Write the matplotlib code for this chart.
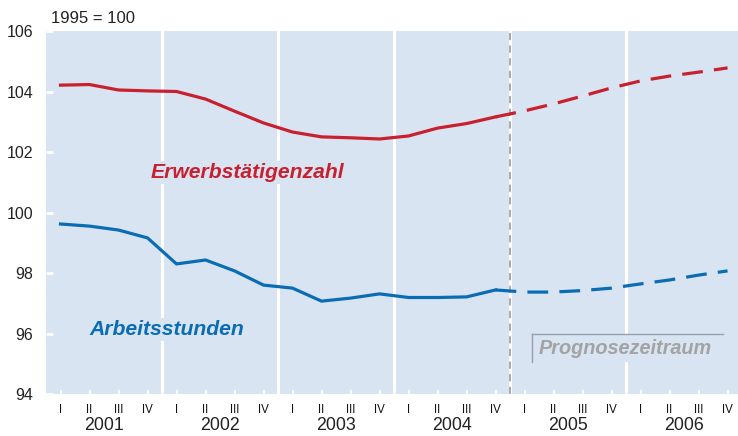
import numpy as np
import matplotlib.pyplot as plt
import matplotlib.transforms as mtransforms

plt.rcParams['font.family'] = ['Liberation Sans', 'DejaVu Sans']

# Quartale 2001 I bis 2006 IV
years = ['2001', '2002', '2003', '2004', '2005', '2006']
quarters = ['I', 'II', 'III', 'IV']

# 1995 = 100
erwerbstaetige = [104.21, 104.23, 104.05, 104.02, 104.00, 103.75, 103.35, 102.96,
                  102.66, 102.50, 102.47, 102.43, 102.53, 102.79, 102.94, 103.16,
                  103.36, 103.59, 103.85, 104.12, 104.35, 104.51, 104.64, 104.78]
arbeitsstunden = [99.62, 99.55, 99.42, 99.16, 98.30, 98.43, 98.07, 97.60,
                  97.50, 97.07, 97.17, 97.31, 97.19, 97.19, 97.21, 97.44,
                  97.37, 97.37, 97.42, 97.50, 97.64, 97.77, 97.93, 98.07]
last_actual = 15  # 2004 IV, danach Prognose

bg = '#d9e4f3'
red = '#c8202f'
blue = '#0a6db4'
grey = '#a3a3a3'

fig = plt.figure(figsize=(7.38, 4.36), dpi=100)
ax = fig.add_axes([46 / 738, 1 - 394 / 436, 1 - 46 / 738, (394 - 31) / 436])
ax.set_facecolor(bg)
for s in ax.spines.values():
    s.set_visible(False)

n = len(erwerbstaetige)
x = np.arange(n)

# Jahrestrenner
for k in range(1, len(years)):
    xs = 4 * k - 0.5
    ax.axvline(xs, color='white', lw=2.2, zorder=1)
ax.axvline(4 * 4 - 0.5, color=grey, lw=1.3, ls=(0, (4, 3)), zorder=1.5)

ax.plot(x[:last_actual + 1], erwerbstaetige[:last_actual + 1], color=red, lw=2.3, zorder=3)
ax.plot(x[last_actual:], erwerbstaetige[last_actual:], color=red, lw=2.3, ls=(0, (6.5, 3.5)), zorder=3)
ax.plot(x[:last_actual + 1], arbeitsstunden[:last_actual + 1], color=blue, lw=2.3, zorder=3)
ax.plot(x[last_actual:], arbeitsstunden[last_actual:], color=blue, lw=2.3, ls=(0, (6.5, 3.5)), zorder=3)

ax.set_xlim(-0.5, 23.36)
ax.set_ylim(94, 106)
ax.set_yticks(np.arange(94, 107, 2))
ax.tick_params(axis='y', direction='in', length=5, width=2, color='white',
               labelsize=11.5, pad=9, labelcolor='#222222')
ax.set_xticks(x)
ax.set_xticklabels(quarters * len(years))
ax.tick_params(axis='x', direction='in', length=3, width=1.5, color='white',
               labelsize=8.3, pad=7.5, labelcolor='#111111')

trans = mtransforms.blended_transform_factory(ax.transData, ax.transAxes)
for i, yr in enumerate(years):
    ax.text(4 * i + 1.5, -0.087, yr, transform=trans, ha='center', va='center',
            fontsize=12.8, color='#222222')

ax.text(-0.32, 1.015, '1995 = 100', transform=trans, ha='left', va='bottom',
        fontsize=12, color='#222222')

ax.text(3.1, 101.31, 'Erwerbstätigenzahl', color=red, fontsize=15.2,
        fontweight='bold', fontstyle='italic', ha='left', va='center', zorder=2,
        bbox=dict(boxstyle='square,pad=0.1', fc=bg, ec='none'))
ax.text(1.0, 96.12, 'Arbeitsstunden', color=blue, fontsize=15.2,
        fontweight='bold', fontstyle='italic', ha='left', va='center', zorder=2,
        bbox=dict(boxstyle='square,pad=0.1', fc=bg, ec='none'))
ax.text(16.5, 95.49, 'Prognosezeitraum', color=grey, fontsize=14.3,
        fontweight='bold', fontstyle='italic', ha='left', va='center', zorder=2,
        bbox=dict(boxstyle='square,pad=0.2', fc=bg, ec='none'))
ax.plot([16.25, 22.85], [96.0, 96.0], color='#9aa0a8', lw=1, zorder=2.5)
ax.plot([16.25, 16.25], [96.0, 95.05], color='#9aa0a8', lw=1, zorder=2.5)

fig.savefig('out.png', dpi=100, facecolor='white')
